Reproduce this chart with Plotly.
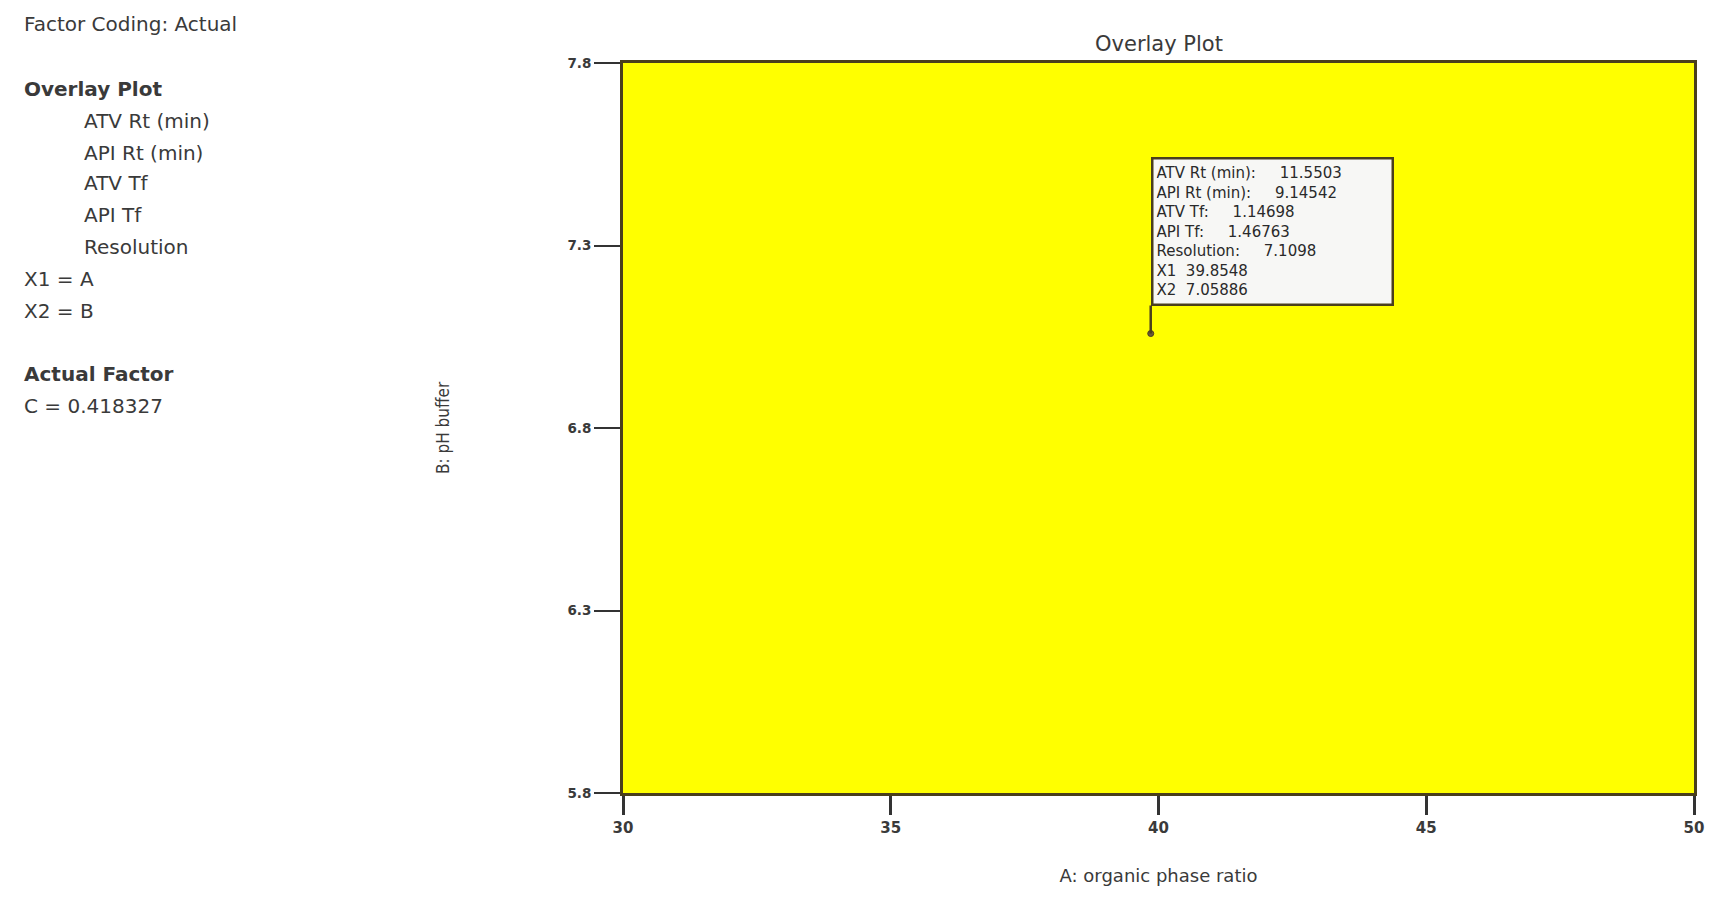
import plotly.graph_objects as go

# ---- data ----
x_range = [30, 50]
y_range = [5.8, 7.8]
x_ticks = [30, 35, 40, 45, 50]
y_ticks = [5.8, 6.3, 6.8, 7.3, 7.8]
flag_x = [39.8548]
flag_y = [7.05886]
flag_names = ["ATV Rt (min):", "API Rt (min):", "ATV Tf:", "API Tf:", "Resolution:", "X1", "X2"]
flag_values = ["11.5503", "9.14542", "1.14698", "1.46763", "7.1098", "39.8548", "7.05886"]
responses = ["ATV Rt (min)", "API Rt (min)", "ATV Tf", "API Tf", "Resolution"]
factor_map = ["X1 = A", "X2 = B"]
actual_factor = ["C = 0.418327"]

FONT = "DejaVu Sans, Open Sans, sans-serif"
TXT = "#3a3a3a"
BORDER = "#4a3f1c"

# page geometry (the page body adds an 8px offset)
OFF = 8
W, H = 1722 - OFF, 910 - OFF
PL, PR, PT, PB = 623, 1694, 63, 793  # plot area in page pixels


def px_to_paper_x(px):
    return (px - PL) / (PR - PL)


def px_to_paper_y(py):
    return (PB - py) / (PB - PT)


fig = go.Figure()

# design-space region (fills the whole factor range)
fig.add_trace(go.Scatter(
    x=[x_range[0], x_range[1], x_range[1], x_range[0], x_range[0]],
    y=[y_range[0], y_range[0], y_range[1], y_range[1], y_range[0]],
    fill="toself", fillcolor="#ffff00", mode="lines",
    line=dict(width=0), hoverinfo="skip", showlegend=False))

# flag point
fig.add_trace(go.Scatter(
    x=flag_x, y=flag_y, mode="markers",
    marker=dict(size=6, color="#6b5a3a", line=dict(width=1, color=BORDER)),
    showlegend=False, hoverinfo="skip"))

flag_lines = []
for n, v in zip(flag_names, flag_values):
    gap = "&nbsp;&nbsp;&nbsp;&nbsp;&nbsp;" if n.endswith(":") else "&nbsp;&nbsp;"
    flag_lines.append(f"{n}{gap}{v}")
flag_text = "<br>".join(flag_lines)

annotations = [
    dict(x=flag_x[0], y=flag_y[0], xref="x", yref="y",
         text=flag_text, showarrow=True, arrowhead=0, arrowwidth=2.5, arrowcolor=BORDER,
         ax=0, ay=-28, xanchor="left", yanchor="bottom", align="left",
         bgcolor="#f7f7f5", bordercolor=BORDER, borderwidth=2.5, borderpad=3,
         width=232, height=138, valign="middle",
         font=dict(family=FONT, size=15, color="#2a2a2a")),
]

# left side panel
panel = [("Factor Coding: Actual", 22, 24)]
panel.append(("<b>Overlay Plot</b>", 22, 89))
for r, yy in zip(responses, [121, 153, 183, 215, 247]):
    panel.append((r, 82, yy))
for f, yy in zip(factor_map, [279, 311]):
    panel.append((f, 22, yy))
panel.append(("<b>Actual Factor</b>", 22, 374))
panel.append((actual_factor[0], 22, 406))
for t, px, py in panel:
    annotations.append(dict(
        x=px_to_paper_x(px), y=px_to_paper_y(py), xref="paper", yref="paper",
        text=t, showarrow=False, xanchor="left", yanchor="middle",
        font=dict(family=FONT, size=20, color=TXT)))

# y axis title
annotations.append(dict(
    x=px_to_paper_x(443), y=0.5, xref="paper", yref="paper", textangle=-90,
    text="B: pH buffer", showarrow=False, xanchor="center", yanchor="middle",
    font=dict(family="Liberation Sans Narrow, DejaVu Sans Condensed, sans-serif", size=17, color=TXT)))

# chart title
annotations.append(dict(
    x=0.5, y=px_to_paper_y(44), xref="paper", yref="paper",
    text="Overlay Plot", showarrow=False, xanchor="center", yanchor="middle",
    font=dict(family=FONT, size=21, color=TXT)))

fig.update_layout(
    width=W, height=H,
    margin=dict(l=PL - OFF, r=1722 - PR, t=PT - OFF, b=910 - PB),
    paper_bgcolor="white", plot_bgcolor="#ffff00",
    annotations=annotations,
    showlegend=False,
)

fig.update_xaxes(
    range=x_range, tickvals=x_ticks, ticktext=[str(v) for v in x_ticks],
    ticks="outside", ticklen=19, tickwidth=2.5, tickcolor="#333333",
    showgrid=False, zeroline=False,
    showline=True, linecolor=BORDER, linewidth=3, mirror=True,
    tickfont=dict(family=FONT, size=15, color=TXT, weight=600),
    title=dict(text="A: organic phase ratio", standoff=34,
               font=dict(family=FONT, size=18, color=TXT)),
    automargin=False,
)
fig.update_yaxes(
    range=y_range, tickvals=y_ticks, ticktext=[f"{v:.1f}" for v in y_ticks],
    ticks="outside", ticklen=26, tickwidth=2, tickcolor="#333333",
    showgrid=False, zeroline=False,
    showline=True, linecolor=BORDER, linewidth=3, mirror=True,
    tickfont=dict(family=FONT, size=13.5, color=TXT, weight=600),
    automargin=False,
)

fig.write_html("out.html")
